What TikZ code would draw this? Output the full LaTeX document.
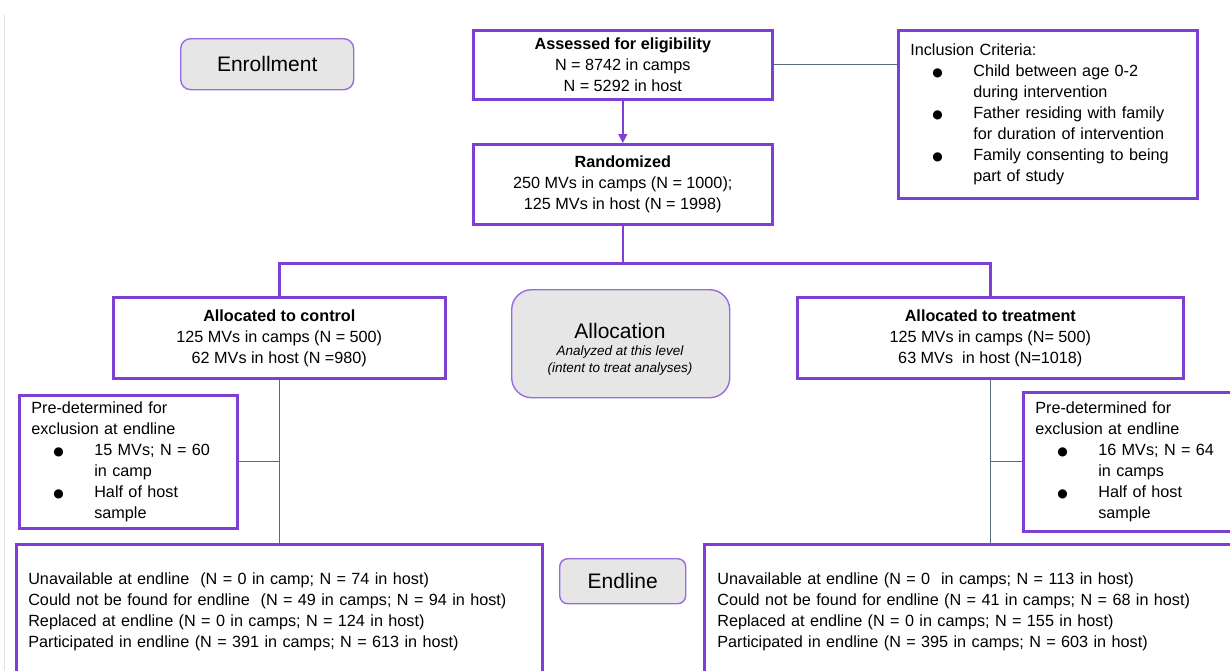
\documentclass[tikz,border=0pt]{standalone}
\usepackage{fontspec}
\setmainfont{Liberation Sans}
\newfontfamily\dejavu{DejaVu Sans}
\usetikzlibrary{arrows.meta}
\definecolor{pur}{RGB}{126,63,212}
\definecolor{lpur}{RGB}{152,108,222}
\definecolor{gfill}{RGB}{230,230,230}
\definecolor{gline}{RGB}{92,106,126}
\newcommand{\bul}{\hspace*{22pt}\makebox[41pt][l]{{\dejavu\fontsize{12}{0}\selectfont ●}}}
\newcommand{\ind}{\hspace*{63pt}}
\begin{document}
\begin{tikzpicture}[x=1pt,y=-1pt,
  txt/.style={font=\fontsize{16.2}{21}\selectfont},
  box/.style={txt,draw=pur,line width=2.6pt,inner xsep=0pt,inner ysep=0pt,anchor=north west,align=center},
  lbox/.style={txt,draw=pur,line width=2.6pt,inner xsep=12pt,inner ysep=0pt,anchor=north west,align=left},
  stage/.style={draw=lpur,line width=1.4pt,fill=gfill,anchor=north west,inner sep=0pt,align=center,font=\fontsize{21}{25}\selectfont},
  gl/.style={draw=gline,line width=1.3pt},
  pl/.style={draw=pur,line width=2.6pt}]
\useasboundingbox (0,0) rectangle (1230,670);
\clip (0,0) rectangle (1230,670);
\draw[black!12,line width=1pt] (4,15) -- (4,670);

\node[stage,minimum width=173pt,minimum height=51pt,rounded corners=10pt] (enroll) at (180,38) {Enrollment};
\node[stage,minimum width=218pt,minimum height=108pt,rounded corners=20pt] (alloc) at (511,289) {};
\node[align=center,font=\fontsize{21}{25}\selectfont] (alloct) at (620,331) {Allocation};
\node[align=center,font=\fontsize{13.5}{17}\selectfont\itshape,anchor=north] (allocs) at (620,342) {Analyzed at this level\\(intent to treat analyses)};
\node[stage,minimum width=126pt,minimum height=45pt,rounded corners=8pt] (endl) at (559,558) {Endline};

\node[box,minimum width=299pt,minimum height=69pt] (assess) at (472,29)
  {\textbf{Assessed for eligibility}\\N = 8742 in camps\\N = 5292 in host};
\node[box,minimum width=299pt,minimum height=80pt] (rand) at (472,143)
  {\textbf{Randomized}\\250 MVs in camps (N = 1000);\\125 MVs in host (N = 1998)};
\node[lbox,text width=275pt,minimum height=168pt] (incl) at (897,29)
  {Inclusion Criteria:\\
   \bul Child between age 0-2\\ \ind during intervention\\
   \bul Father residing with family\\ \ind for duration of intervention\\
   \bul Family consenting to being\\ \ind part of study};

\node[box,minimum width=332pt,minimum height=81pt] (ctrl) at (112,296)
  {\textbf{Allocated to control}\\125 MVs in camps (N = 500)\\62 MVs in host (N =980)};
\node[box,minimum width=386pt,minimum height=81pt] (treat) at (796,296)
  {\textbf{Allocated to treatment}\\125 MVs in camps (N= 500)\\63 MVs\ \ in host (N=1018)};

\node[lbox,text width=194pt,minimum height=133pt] (ctrlpre) at (18,394)
  {Pre-determined for\\exclusion at endline\\
   \bul 15 MVs; N = 60\\ \ind in camp\\
   \bul Half of host\\ \ind sample};
\node[lbox,text width=194pt,minimum height=139pt] (treatpre) at (1022,391)
  {Pre-determined for\\exclusion at endline\\
   \bul 16 MVs; N = 64\\ \ind in camps\\
   \bul Half of host\\ \ind sample};

\node[lbox,text width=502pt,minimum height=135pt] (ctrlend) at (15,543)
  {Unavailable at endline\ \ (N = 0 in camp; N = 74 in host)\\
   Could not be found for endline\ \ (N = 49 in camps; N = 94 in host)\\
   Replaced at endline (N = 0 in camps; N = 124 in host)\\
   Participated in endline (N = 391 in camps; N = 613 in host)};
\node[lbox,inner xsep=13pt,text width=546pt,minimum height=135pt] (treatend) at (703,543)
  {Unavailable at endline (N = 0\ \ in camps; N = 113 in host)\\
   Could not be found for endline (N = 41 in camps; N = 68 in host)\\
   Replaced at endline (N = 0 in camps; N = 155 in host)\\
   Participated in endline (N = 395 in camps; N = 603 in host)};

\draw[gl] (assess.east) -- (assess.east -| incl.west);
\draw[draw=pur,line width=1.4pt,-{Triangle[length=9pt,width=9pt]}] (assess.south) -- (rand.north);
\coordinate (split) at ([yshift=-38pt]rand.south);
\draw[pl] (rand.south) -- (split);
\draw[pl] (ctrl.north) |- (split) -| (treat.north);
\draw[gl] (ctrl.south) -- (ctrlend.north);
\draw[gl] (treat.south) -- (treatend.north);
\draw[gl] (ctrlpre.east) -- (ctrlpre.east -| ctrl.south);
\draw[gl] (treatpre.west) -- (treatpre.west -| treat.south);
\end{tikzpicture}
\end{document}
